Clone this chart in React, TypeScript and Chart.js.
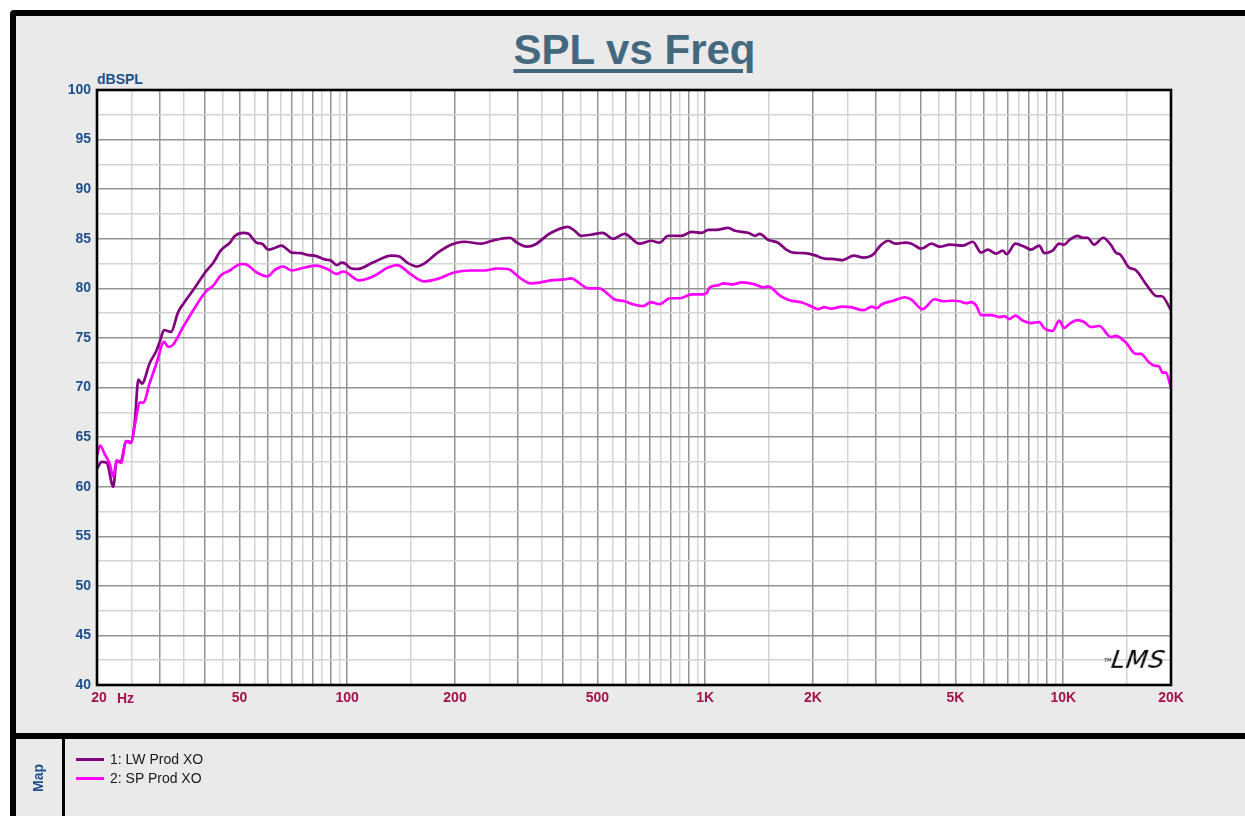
import React, { useEffect, useRef } from 'react';
import { Chart, registerables } from 'chart.js';

Chart.register(...registerables);

// ---- data ----
const lwFreq = [20, 20.6, 21.3, 22.2, 22.7, 23.3, 24.1, 24.9, 25.5, 26.1, 26.7, 28.1, 29.3, 30, 30.8, 32.2, 33.7, 35.1, 37.6, 40.1, 42.3, 44.3, 47, 48.6, 51.2, 53, 55.9, 57.8, 60.2, 63, 65.6, 67.6, 70, 74, 78, 81, 87, 90, 93.4, 96.6, 98.6, 102.6, 107, 118, 133, 140, 147, 157, 164, 179, 195, 212, 237, 254, 285, 298, 318, 336, 367, 413, 432, 450, 479, 517, 552, 595, 655, 706, 745, 788, 858, 916, 977, 1020, 1075, 1159, 1209, 1318, 1376, 1420, 1498, 1597, 1684, 1759, 1893, 2018, 2151, 2292, 2416, 2599, 2770, 2952, 3082, 3249, 3391, 3614, 3771, 4019, 4285, 4520, 4817, 5244, 5591, 5896, 6154, 6495, 6776, 6953, 7350, 7790, 8130, 8573, 8850, 9330, 9745, 10060, 10390, 10960, 11320, 11690, 12200, 12930, 13570, 14070, 14380, 15260, 15930, 17130, 18260, 18840, 20000];
const lwSpl = [61.8, 62.5, 62.4, 60.0, 62.6, 62.5, 64.6, 64.5, 66.5, 70.8, 70.4, 72.5, 73.7, 74.7, 75.8, 75.6, 77.6, 78.6, 80.1, 81.6, 82.6, 83.8, 84.6, 85.3, 85.6, 85.5, 84.6, 84.5, 83.9, 84.1, 84.3, 84.0, 83.6, 83.55, 83.35, 83.3, 82.9, 82.8, 82.35, 82.6, 82.5, 82.0, 81.95, 82.6, 83.3, 83.2, 82.6, 82.2, 82.5, 83.6, 84.4, 84.7, 84.5, 84.8, 85.1, 84.6, 84.2, 84.45, 85.5, 86.2, 85.8, 85.3, 85.4, 85.6, 85.0, 85.5, 84.5, 84.8, 84.6, 85.3, 85.3, 85.7, 85.6, 85.9, 85.9, 86.1, 85.8, 85.6, 85.3, 85.5, 84.9, 84.6, 83.9, 83.6, 83.55, 83.35, 83.0, 82.95, 82.85, 83.3, 83.1, 83.45, 84.3, 84.8, 84.5, 84.6, 84.5, 84.0, 84.5, 84.2, 84.4, 84.3, 84.7, 83.6, 83.9, 83.5, 83.8, 83.45, 84.5, 84.2, 83.9, 84.3, 83.55, 83.8, 84.5, 84.4, 84.85, 85.3, 85.1, 85.1, 84.4, 85.1, 84.4, 83.55, 83.45, 82.1, 81.85, 80.3, 79.2, 79.2, 77.8];

const spFreq = [20, 20.4, 21, 21.7, 22.2, 22.7, 23.4, 24.1, 24.9, 25.5, 26.4, 26.9, 28.1, 29.3, 30.8, 31.6, 32.6, 34.8, 37.6, 40.1, 42.3, 44.3, 47, 50.5, 51.7, 55.9, 59.8, 63, 66.2, 70, 76, 82, 88.5, 93.4, 97.6, 108, 118, 130, 138, 150, 164, 179, 199, 221, 242, 262, 281, 305, 325, 347, 370, 404, 422, 450, 470, 506, 528, 557, 595, 628, 670, 706, 745, 797, 850, 916, 977, 1008, 1030, 1086, 1122, 1196, 1262, 1376, 1451, 1498, 1614, 1720, 1856, 2000, 2064, 2151, 2248, 2416, 2547, 2770, 2920, 3014, 3114, 3355, 3614, 3771, 4046, 4375, 4616, 4920, 5137, 5362, 5535, 5716, 5896, 6291, 6635, 6850, 7070, 7350, 7700, 8130, 8573, 8850, 9330, 9745, 10060, 10390, 10960, 11440, 11950, 12620, 13570, 14010, 14950, 15930, 16460, 17360, 17930, 18520, 18920, 19350, 20000];
const spSpl = [63.15, 64.15, 63.3, 62.3, 61.0, 62.65, 62.4, 64.6, 64.4, 66.2, 68.5, 68.45, 70.5, 72.4, 74.6, 74.1, 74.3, 76.1, 78.1, 79.6, 80.3, 81.3, 81.8, 82.45, 82.45, 81.6, 81.2, 81.9, 82.2, 81.8, 82.1, 82.3, 81.9, 81.45, 81.7, 80.8, 81.2, 82.1, 82.35, 81.45, 80.7, 80.95, 81.6, 81.8, 81.8, 82.0, 81.95, 81.0, 80.5, 80.6, 80.8, 80.9, 81.0, 80.4, 80.0, 80.0, 79.6, 78.9, 78.7, 78.4, 78.2, 78.6, 78.4, 79.0, 79.0, 79.4, 79.4, 79.5, 80.1, 80.3, 80.5, 80.4, 80.6, 80.4, 80.1, 80.2, 79.3, 78.8, 78.6, 78.1, 77.9, 78.1, 77.95, 78.15, 78.1, 77.8, 78.15, 78.0, 78.4, 78.75, 79.1, 78.85, 77.9, 78.9, 78.7, 78.75, 78.7, 78.5, 78.6, 78.25, 77.3, 77.3, 77.1, 77.2, 76.9, 77.25, 76.75, 76.5, 76.6, 75.97, 75.7, 76.75, 76.0, 76.4, 76.8, 76.6, 76.1, 76.2, 75.1, 75.2, 74.55, 73.4, 73.4, 72.55, 72.2, 72.15, 71.5, 71.5, 70.0];

const seriesNames = ['1: LW Prod XO', '2: SP Prod XO'];
const seriesColors = ['#800080', '#ff00ff'];

const xLabelValues = [20, 50, 100, 200, 500, 1000, 2000, 5000, 10000, 20000];
const xLabelText = [' 20', '50', '100', '200', '500', '1K', '2K', '5K', '10K', '20K'];
const yMin = 40;
const yMax = 100;
const yStep = 2.5;
const yLabelStep = 5;

const FONT = '"Liberation Sans", Arial, Helvetica, sans-serif';
const DARK_GRID = '#939393';
const LIGHT_GRID = '#d4d4d4';
const Y_COLOR = '#1d4f8c';
const X_COLOR = '#a3124f';

const xGridValues: number[] = [];
for (let d = 10; d <= 10000; d *= 10) {
  for (let k = 1; k < 10; k += 0.5) {
    const v = k * d;
    if (v >= 20 && v <= 20000) xGridValues.push(v);
  }
}

function isMajorX(v: number) {
  const p = Math.pow(10, Math.floor(Math.log10(v) + 1e-9));
  const r = v / p;
  return Math.abs(r - Math.round(r)) < 1e-6;
}

const plotFrame = {
  id: 'plotFrame',
  beforeDraw(chart: any) {
    const { ctx, chartArea } = chart;
    ctx.save();
    ctx.fillStyle = '#ffffff';
    ctx.fillRect(chartArea.left, chartArea.top, chartArea.right - chartArea.left, chartArea.bottom - chartArea.top);
    ctx.restore();
  },
  afterDatasetsDraw(chart: any) {
    const { ctx, chartArea } = chart;
    ctx.save();
    ctx.strokeStyle = '#000000';
    ctx.lineWidth = 2.6;
    ctx.strokeRect(chartArea.left, chartArea.top, chartArea.right - chartArea.left, chartArea.bottom - chartArea.top);
    ctx.restore();
  },
};

function SplChart() {
  const ref = useRef<HTMLCanvasElement | null>(null);
  useEffect(() => {
    if (!ref.current) return;
    const chart = new Chart(ref.current, {
      type: 'line',
      data: {
        datasets: [
          {
            label: seriesNames[0],
            data: lwFreq.map((f, i) => ({ x: f, y: lwSpl[i] })),
            borderColor: seriesColors[0],
            borderWidth: 2.7,
            pointRadius: 0,
            cubicInterpolationMode: 'monotone',
            order: 1,
          },
          {
            label: seriesNames[1],
            data: spFreq.map((f, i) => ({ x: f, y: spSpl[i] })),
            borderColor: seriesColors[1],
            borderWidth: 2.7,
            pointRadius: 0,
            cubicInterpolationMode: 'monotone',
            order: 0,
          },
        ],
      },
      options: {
        animation: false,
        responsive: false,
        devicePixelRatio: 1,
        layout: { padding: { left: 30, top: 90, right: 74, bottom: 18 } },
        plugins: { legend: { display: false }, tooltip: { enabled: false }, title: { display: false } },
        scales: {
          x: {
            type: 'logarithmic',
            min: 20,
            max: 20000,
            afterBuildTicks: (s: any) => {
              s.ticks = xGridValues.map((v) => ({ value: v }));
            },
            afterFit: (s: any) => {
              s.height = 30;
            },
            border: { display: false },
            grid: {
              drawTicks: false,
              color: (c: any) => (isMajorX(c.tick.value) ? DARK_GRID : LIGHT_GRID),
              lineWidth: 1.5,
            },
            ticks: {
              autoSkip: false,
              maxRotation: 0,
              minRotation: 0,
              padding: 5,
              color: X_COLOR,
              font: { family: FONT, size: 14, weight: 'bold' },
              callback: (v: any) => {
                const i = xLabelValues.indexOf(Number(v));
                return i >= 0 ? xLabelText[i] : '';
              },
            },
          },
          y: {
            type: 'linear',
            min: yMin,
            max: yMax,
            afterFit: (s: any) => {
              s.width = 67;
            },
            border: { display: false },
            grid: {
              drawTicks: false,
              color: (c: any) => (c.tick.value % yLabelStep === 0 ? DARK_GRID : LIGHT_GRID),
              lineWidth: 1.5,
            },
            ticks: {
              stepSize: yStep,
              autoSkip: false,
              padding: 6,
              color: Y_COLOR,
              font: { family: FONT, size: 14, weight: 'bold' },
              callback: (v: any) => (Number(v) % yLabelStep === 0 ? String(v) : ''),
            },
          },
        },
      } as any,
      plugins: [plotFrame],
    });
    return () => chart.destroy();
  }, []);
  return <canvas ref={ref} width={1245} height={733} style={{ position: 'absolute', left: 0, top: 0, width: 1245, height: 733 }} />;
}

export default function App() {
  return (
    <div style={{ position: 'absolute', left: 0, top: 0, width: 1245, height: 816, overflow: 'hidden', background: '#ffffff', fontFamily: FONT }}>
      {/* outer frame */}
      <div style={{ position: 'absolute', left: 10, top: 10, width: 1300, height: 900, border: '6px solid #000', borderRadius: 4, background: '#eaeaea' }} />
      {/* title */}
      <div style={{ position: 'absolute', left: 0, top: 29, width: 1269, textAlign: 'center', fontSize: 42, lineHeight: '42px', fontWeight: 'bold', color: '#44697f', textDecoration: 'underline', textDecorationThickness: '4px', textUnderlineOffset: '5px' }}>
        SPL vs Freq
      </div>
      <div style={{ position: 'absolute', left: 97, top: 71, fontSize: 14, lineHeight: '16px', fontWeight: 'bold', color: Y_COLOR }}>dBSPL</div>
      <SplChart />
      <div style={{ position: 'absolute', left: 117, top: 690, fontSize: 14, lineHeight: '16px', fontWeight: 'bold', color: X_COLOR }}>Hz</div>
      {/* LMS mark */}
      <div style={{ position: 'absolute', left: 1104, top: 645, fontFamily: '"DejaVu Sans", sans-serif', fontSize: 25, lineHeight: '30px', fontStyle: 'italic', fontWeight: 300, color: '#000', letterSpacing: 1, transform: 'skewX(-8deg)' }}>
        <span style={{ fontSize: 5, verticalAlign: 'top', letterSpacing: 0 }}>TM</span>LMS
      </div>
      {/* divider + legend panel */}
      <div style={{ position: 'absolute', left: 10, top: 733, width: 1300, height: 6, background: '#000' }} />
      <div style={{ position: 'absolute', left: 62, top: 739, width: 3, height: 100, background: '#000' }} />
      <div style={{ position: 'absolute', left: 38, top: 778, transform: 'translate(-50%, -50%) rotate(-90deg)', fontSize: 14, fontWeight: 'bold', color: Y_COLOR, whiteSpace: 'nowrap' }}>Map</div>
      {seriesNames.map((name, i) => (
        <React.Fragment key={name}>
          <div style={{ position: 'absolute', left: 76, top: 758 + i * 19, width: 28, height: 3, background: seriesColors[i] }} />
          <div style={{ position: 'absolute', left: 110, top: 751 + i * 19, fontSize: 14, lineHeight: '16px', color: '#1a1a1a', whiteSpace: 'nowrap' }}>{name}</div>
        </React.Fragment>
      ))}
    </div>
  );
}
